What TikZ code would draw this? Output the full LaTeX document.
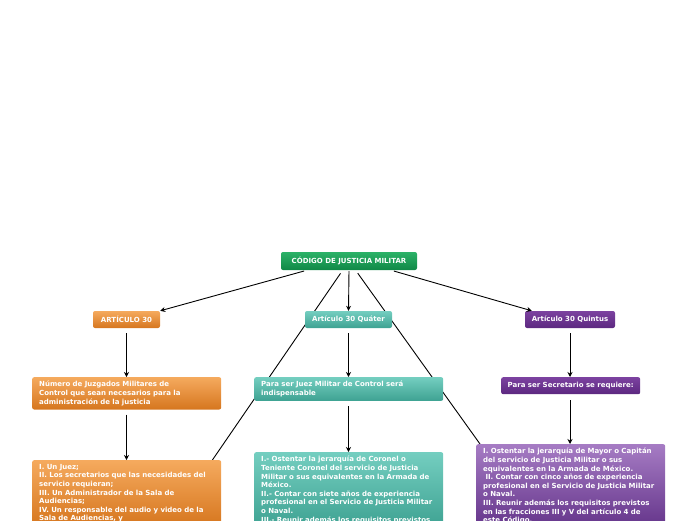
\documentclass[tikz,border=0pt]{standalone}
\usepackage{fontspec}
\setmainfont{DejaVu Sans}
\usetikzlibrary{arrows.meta,backgrounds}
\hyphenpenalty=10000
\definecolor{verdearriba}{RGB}{44,178,104}
\definecolor{verdeabajo}{RGB}{16,136,70}
\definecolor{naranjaarriba}{RGB}{245,170,94}
\definecolor{naranjaabajo}{RGB}{214,118,30}
\definecolor{turquesaarriba}{RGB}{116,206,192}
\definecolor{turquesaabajo}{RGB}{62,162,146}
\definecolor{moradoarriba}{RGB}{124,66,160}
\definecolor{moradoabajo}{RGB}{92,40,128}
\definecolor{lilaarriba}{RGB}{166,124,196}
\definecolor{lilaabajo}{RGB}{100,52,138}

\begin{document}
\begin{tikzpicture}[x=1pt, y=-1pt,
	caja/.style={rounded corners=2pt, text=white, inner xsep=7pt, inner ysep=4pt,
		font=\fontsize{7}{8.6}\selectfont\bfseries},
	titulo/.style={caja, minimum height=17pt, inner xsep=4pt},
	texto/.style={caja, text width=175pt, align=left, anchor=north west},
	verde/.style={top color=verdearriba, bottom color=verdeabajo},
	naranja/.style={top color=naranjaarriba, bottom color=naranjaabajo},
	turquesa/.style={top color=turquesaarriba, bottom color=turquesaabajo},
	morado/.style={top color=moradoarriba, bottom color=moradoabajo},
	lila/.style={top color=lilaarriba, bottom color=lilaabajo},
	flecha/.style={-{Stealth[length=5pt,width=5pt]}, line width=0.9pt},
	linea/.style={line width=0.9pt}]
	\useasboundingbox (0,0) rectangle (696,520);
	\clip (0,0) rectangle (696,520);
	% Nodo central
	\node[titulo, verde, minimum width=136pt, minimum height=18pt] (codigo) at (349,261) {CÓDIGO DE JUSTICIA MILITAR};
	% Artículos
	\node[titulo, naranja, minimum width=67pt] (art30) at (126.5,319.5) {ARTÍCULO 30};
	\node[titulo, turquesa, minimum width=87pt] (quater) at (348.5,319.5) {Artículo 30 Quáter};
	\node[titulo, morado, minimum width=90pt] (quintus) at (570,319.5) {Artículo 30 Quintus};
	% Segundo nivel
	\node[texto, naranja] (juzgados) at (32,377) {Número de Juzgados Militares de\\Control que sean necesarios para la administración de la justicia};
	\node[texto, turquesa] (juez) at (254,377) {Para ser Juez Militar de Control será indispensable};
	\node[titulo, morado, anchor=north west, minimum width=139pt] (secretario) at (501,377) {Para ser Secretario se requiere:};
	% Tercer nivel
	\node[texto, naranja] (integrantes) at (32,460) {I. Un Juez;\\II. Los secretarios que las necesidades del servicio requieran;\\III. Un Administrador de la Sala de Audiencias;\\IV. Un responsable del audio y video de la Sala de Audiencias, y};
	\node[texto, turquesa] (reqjuez) at (254,452) {I.- Ostentar la jerarquía de Coronel o Teniente Coronel del servicio de Justicia Militar o sus equivalentes en la Armada de México.\\II.- Contar con siete años de experiencia profesional en el Servicio de Justicia Militar o Naval.\\III.- Reunir además los requisitos previstos};
	\node[texto, lila] (reqsecretario) at (476,444) {I. Ostentar la jerarquía de Mayor o Capitán del servicio de Justicia Militar o sus equivalentes en la Armada de México.\\\ II. Contar con cinco años de experiencia profesional en el Servicio de Justicia Militar o Naval.\\III. Reunir además los requisitos previstos en las fracciones III y V del artículo 4 de este Código.};
	% Flechas
	\draw[flecha, shorten <=3pt] ([xshift=-42pt]codigo.south) -- (art30.north east);
	\draw[flecha, shorten <=1pt] (codigo.south) -- (quater.north);
	\draw[flecha, shorten <=3pt] ([xshift=42pt]codigo.south) -- ([xshift=7pt]quintus.north west);
	\draw[flecha, shorten <=5pt] (art30.south) -- (art30.south |- juzgados.north);
	\draw[flecha, shorten <=5pt] (quater.south) -- (quater.south |- juez.north);
	\draw[flecha, shorten <=5pt] (quintus.south) -- (quintus.south |- secretario.north);
	\draw[flecha, shorten <=5pt] (juzgados.south -| art30.south) -- (art30.south |- integrantes.north);
	\draw[flecha, shorten <=5pt] (juez.south -| quater.south) -- (quater.south |- reqjuez.north);
	\draw[flecha, shorten <=6pt] (secretario.south -| quintus.south) -- (quintus.south |- reqsecretario.north);
	% Lineas cruzadas detras de las cajas
	\begin{scope}[on background layer]
		\draw[linea, shorten <=15pt] (codigo.center) -- ([xshift=-9pt]integrantes.north east);
		\draw[linea, shorten <=15pt] (codigo.center) -- ([xshift=4pt]reqsecretario.north west);
	\end{scope}
\end{tikzpicture}
\end{document}
